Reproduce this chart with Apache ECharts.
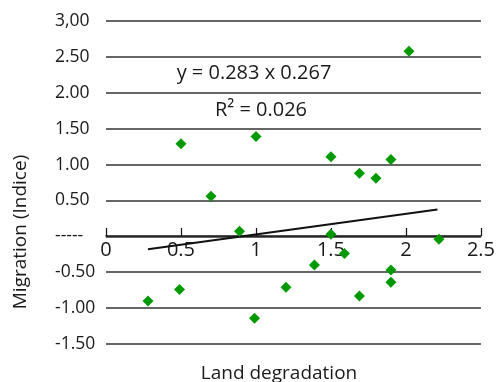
<!DOCTYPE html>
<html>
<head>
<meta charset="utf-8">
<script src="https://cdn.jsdelivr.net/npm/echarts@6/dist/echarts.min.js"></script>
<style>html,body{margin:0;padding:0;background:#fff}#c{width:498px;height:382px}</style>
</head>
<body>
<div id="c"></div>
<script>
// Land degradation (x) vs Migration index (y)
const landDegradation = [0.28, 0.50, 0.49, 0.70, 0.89, 1.00, 0.99, 1.20, 1.39, 1.50, 1.50, 1.59, 1.69, 1.69, 1.80, 1.90, 1.90, 1.90, 2.02, 2.22];
const migration       = [-0.90, 1.29, -0.74, 0.56, 0.07, 1.39, -1.14, -0.71, -0.40, 1.11, 0.03, -0.24, 0.88, -0.83, 0.81, 1.07, -0.47, -0.64, 2.58, -0.04];
const trendX = [0.28, 2.21];
const trendY = [-0.18, 0.375];
const yTickLabels = ["-1.50", "-1.00", "-0.50", "-----", "0.50", "1.00", "1.50", "2.00", "2.50", "3,00"];
const xTickLabels = ["0", "0.5", "1", "1.5", "2", "2.5"];
const equationText = "y = 0.283 x 0.267";
const r2Text = "R² = 0.026";
const xName = "Land degradation";
const yName = "Migration (Indice)";

const FONT = "Open Sans";
const TXT = '#1a1a1a';
const chart = echarts.init(document.getElementById('c'), null, {renderer: 'canvas'});
chart.setOption({
  animation: false,
  backgroundColor: '#fff',
  grid: {left: 106, right: 14, top: 21, bottom: 38},
  xAxis: {
    type: 'value', min: 0, max: 2.5, interval: 0.5,
    offset: -108,
    axisLine: {show: true, onZero: false, lineStyle: {color: '#111', width: 1.5}},
    axisTick: {show: true, inside: true, length: 8, lineStyle: {color: '#111', width: 1.2}},
    axisLabel: {margin: 4, fontSize: 20, fontFamily: FONT, color: TXT,
      formatter: v => xTickLabels[Math.round(v / 0.5)]},
    splitLine: {show: false}
  },
  yAxis: {
    type: 'value', min: -1.5, max: 3, interval: 0.5,
    axisLine: {show: false}, axisTick: {show: false},
    axisLabel: {margin: 51, align: 'left', fontSize: 17.5, fontFamily: FONT, color: TXT,
      formatter: v => yTickLabels[Math.round((v + 1.5) / 0.5)]},
    splitLine: {show: true, lineStyle: {color: '#333', width: 1.5}}
  },
  graphic: [
    {type: 'text', style: {text: equationText, font: '20px "' + FONT + '"', fill: TXT, textAlign: 'center', textVerticalAlign: 'middle'}, x: 254, y: 73},
    {type: 'text', style: {text: r2Text, font: '20px "' + FONT + '"', fill: TXT, textAlign: 'center', textVerticalAlign: 'middle'}, x: 261, y: 110},
    {type: 'text', style: {text: xName, font: '19px "' + FONT + '"', fill: TXT, textAlign: 'center', textVerticalAlign: 'middle'}, x: 279, y: 374},
    {type: 'text', rotation: Math.PI / 2, style: {text: yName, font: '19px "' + FONT + '"', fill: TXT, textAlign: 'center', textVerticalAlign: 'middle'}, x: 21, y: 232}
  ],
  series: [
    {type: 'line', data: trendX.map((x, i) => [x, trendY[i]]), symbol: 'none',
      lineStyle: {color: '#111', width: 2}, z: 3},
    {type: 'scatter', data: landDegradation.map((x, i) => [x, migration[i]]),
      symbol: 'diamond', symbolSize: 11, itemStyle: {color: '#009900', opacity: 1}, z: 4}
  ]
});
</script>
</body>
</html>
